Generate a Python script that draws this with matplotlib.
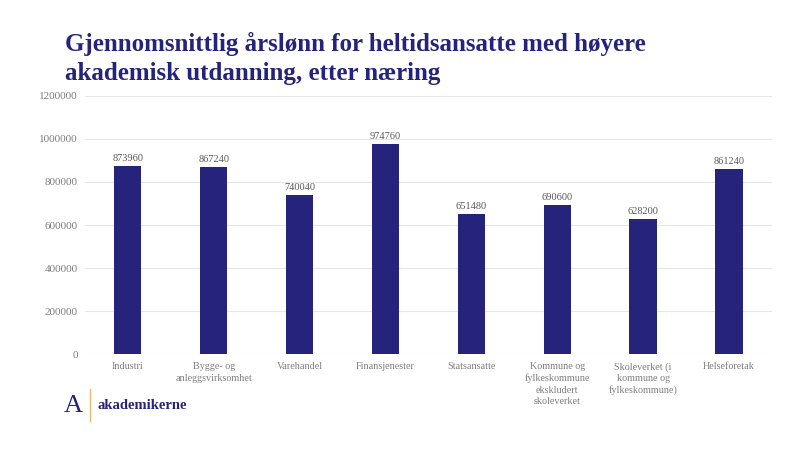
import matplotlib.pyplot as plt

# data
kategorier = ["Industri", "Bygge- og\nanleggsvirksomhet", "Varehandel", "Finansjenester",
              "Statsansatte", "Kommune og\nfylkeskommune\nekskludert\nskoleverket",
              "Skoleverket (i\nkommune og\nfylkeskommune)", "Helseforetak"]
lonn = [873960, 867240, 740040, 974760, 651480, 690600, 628200, 861240]
yticks = [0, 200000, 400000, 600000, 800000, 1000000, 1200000]

navy = "#25237B"
grey = "#595959"
lightgrey = "#7F7F7F"
plt.rcParams['font.family'] = ['Liberation Serif', 'DejaVu Serif']

fig = plt.figure(figsize=(8, 4.5), dpi=100)
ax = fig.add_axes([0.106, 0.213, 0.859, 0.574])

x = range(len(kategorier))
bars = ax.bar(x, lonn, width=0.32, color=navy, zorder=3)
for b, v in zip(bars, lonn):
    ax.text(b.get_x() + b.get_width() / 2, v + 15000, str(v), ha="center", va="bottom",
            fontsize=7.5, color=grey)

ax.set_xlim(-0.5, len(kategorier) - 0.5)
ax.set_ylim(0, 1200000)
ax.set_yticks(yticks)
ax.set_yticklabels([str(t) for t in yticks])
ax.set_xticks(list(x))
ax.set_xticklabels(kategorier, fontsize=7.3, color=lightgrey, linespacing=1.3)
ax.tick_params(axis="y", labelsize=8, labelcolor=lightgrey, length=0, pad=5)
ax.tick_params(axis="x", length=0, pad=6)
ax.grid(axis="y", color="#E7E6E6", linewidth=0.8, zorder=0)
for s in ax.spines.values():
    s.set_visible(False)

fig.text(0.081, 0.87, "Gjennomsnittlig årslønn for heltidsansatte med høyere\nakademisk utdanning, etter næring",
         fontsize=18, fontweight="bold", color=navy, ha="left", va="center", linespacing=1.3)

# logo
fig.text(0.08, 0.098, "A", fontsize=19, color=navy, ha="left", va="center")
fig.add_artist(plt.Line2D([0.112, 0.112], [0.065, 0.135], color="#E8B96A", linewidth=1))
fig.text(0.122, 0.098, "akademikerne", fontsize=10.5, fontweight="bold", color=navy, ha="left", va="center")

fig.savefig("out.png", dpi=100)
